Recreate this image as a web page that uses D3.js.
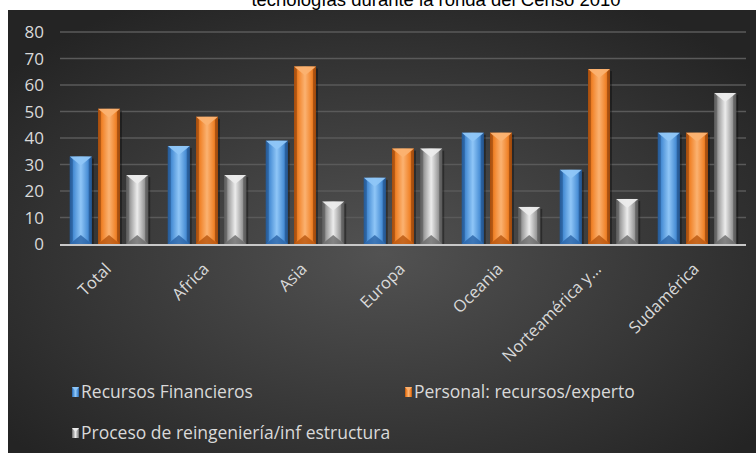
<!DOCTYPE html>
<html><head><meta charset="utf-8">
<script src="https://cdn.jsdelivr.net/npm/d3@7"></script>
<style>html,body{margin:0;padding:0;background:#fff;}svg{display:block;}</style>
</head><body>
<svg id="c" width="756" height="453"></svg>
<script>
const categories = ["Total","Africa","Asia","Europa","Oceania","Norteamérica y...","Sudamérica"];
const seriesNames = ["Recursos Financieros","Personal: recursos/experto","Proceso de reingeniería/inf estructura"];
const recursosFinancieros = [33,37,39,25,42,28,42];
const personal = [51,48,67,36,42,66,42];
const reingenieria = [26,26,16,36,14,17,57];
const yTicks = [0,10,20,30,40,50,60,70,80];
const titleText = "tecnologías durante la ronda del Censo 2010";

const seriesValues = [recursosFinancieros, personal, reingenieria];
const pal = [
  {main:"#4a8fd6", light:"#8fc6f7", dark:"#2a64a8", edge:"#1f4f85"},
  {main:"#f08228", light:"#fbb271", dark:"#b9560f", edge:"#8f410a"},
  {main:"#9c9c9c", light:"#ececec", dark:"#6a6a6a", edge:"#505050"}
];

const svg = d3.select("#c");
const defs = svg.append("defs");
const bg = defs.append("radialGradient").attr("id","bg").attr("cx","50%").attr("cy","55%").attr("r","65%");
bg.append("stop").attr("offset","0%").attr("stop-color","#525252");
bg.append("stop").attr("offset","100%").attr("stop-color","#242424");
pal.forEach((p,i)=>{
  const g = defs.append("linearGradient").attr("id","bar"+i).attr("x1","0").attr("x2","1").attr("y1","0").attr("y2","0");
  g.append("stop").attr("offset","0%").attr("stop-color",p.dark);
  g.append("stop").attr("offset","18%").attr("stop-color",p.main);
  g.append("stop").attr("offset","50%").attr("stop-color",p.light);
  g.append("stop").attr("offset","82%").attr("stop-color",p.main);
  g.append("stop").attr("offset","100%").attr("stop-color",p.dark);
});

// title (cut off at top, as in the reference)
svg.append("text").attr("x",436).attr("y",6).attr("text-anchor","middle")
  .attr("font-family","Liberation Sans, Arial, sans-serif").attr("font-size",18.5).attr("fill","#000").text(titleText);

svg.append("rect").attr("x",8).attr("y",10).attr("width",748).attr("height",443).attr("fill","url(#bg)");

const y = d3.scaleLinear().domain([0,80]).range([244,32]);
const x0 = d3.scaleBand().domain(categories).range([60,746]).padding(0);
const groupW = x0.bandwidth()*0.8;
const x1 = d3.scaleBand().domain(d3.range(3)).range([0,groupW]).paddingInner(0.22);

const font = "'Open Sans', sans-serif";

// grid
svg.append("g").selectAll("line").data(yTicks.filter(t=>t>0)).join("line")
  .attr("x1",60).attr("x2",746).attr("y1",d=>y(d)).attr("y2",d=>y(d))
  .attr("stroke","#5a5a5a").attr("stroke-width",1.3);

// y labels
svg.append("g").selectAll("text").data(yTicks).join("text")
  .attr("x",44).attr("y",d=>y(d)).attr("dy","0.36em").attr("text-anchor","end")
  .attr("font-family",font).attr("font-size",17).attr("fill","#d9d9d9").text(d=>d);

// bars
const bars = [];
categories.forEach((c,ci)=>{
  seriesValues.forEach((vals,si)=>{
    bars.push({c, si, v: vals[ci]});
  });
});
const gb = svg.append("g");
bars.forEach(b=>{
  const bx = x0(b.c) + (x0.bandwidth()-groupW)/2 + x1(b.si);
  const bw = x1.bandwidth();
  const top = y(b.v), bot = y(0);
  const p = pal[b.si];
  const g = gb.append("g");
  g.append("rect").attr("x",bx+2).attr("y",top+2).attr("width",bw).attr("height",bot-top-2)
    .attr("fill","#000").attr("opacity",0.35);
  g.append("rect").attr("x",bx).attr("y",top).attr("width",bw).attr("height",bot-top)
    .attr("fill","url(#bar"+b.si+")");
  const bev = Math.min(bw/2, 9);
  g.append("path").attr("d",`M${bx},${top}L${bx+bw},${top}L${bx+bw/2},${top+bev}Z`).attr("fill",p.light).attr("opacity",0.95);
  g.append("path").attr("d",`M${bx},${bot}L${bx+bw},${bot}L${bx+bw/2},${bot-bev}Z`).attr("fill",p.dark).attr("opacity",0.8);
  g.append("path").attr("d",`M${bx},${top}L${bx+3},${top+3}L${bx+3},${bot-3}L${bx},${bot}Z`).attr("fill",p.edge).attr("opacity",0.5);
  g.append("path").attr("d",`M${bx+bw},${top}L${bx+bw-3},${top+3}L${bx+bw-3},${bot-3}L${bx+bw},${bot}Z`).attr("fill",p.edge).attr("opacity",0.6);
});

// axis line
svg.append("line").attr("x1",60).attr("x2",746).attr("y1",y(0)+1).attr("y2",y(0)+1)
  .attr("stroke","#c8c8c8").attr("stroke-width",2);

// x labels
svg.append("g").selectAll("text").data(categories).join("text")
  .attr("transform",d=>`translate(${x0(d)+x0.bandwidth()/2-1},${266}) rotate(-45)`)
  .attr("text-anchor","end").attr("dy","0.35em")
  .attr("font-family",font).attr("font-size",16.5).attr("fill","#d9d9d9").text(d=>d);

// legend
const legendPos = [[72,392],[405,392],[72,433]];
seriesNames.forEach((n,i)=>{
  const [lx,ly] = legendPos[i];
  const p = pal[i];
  svg.append("rect").attr("x",lx).attr("y",ly-5).attr("width",7).attr("height",10).attr("fill","url(#bar"+i+")");
  svg.append("path").attr("d",`M${lx},${ly-5}L${lx+7},${ly-5}L${lx+3.5},${ly-1}Z`).attr("fill",p.light);
  svg.append("text").attr("x",lx+9).attr("y",ly).attr("dy","0.35em")
    .attr("font-family",font).attr("font-size",17.5).attr("fill","#d9d9d9").text(n);
});
</script>
</body></html>
